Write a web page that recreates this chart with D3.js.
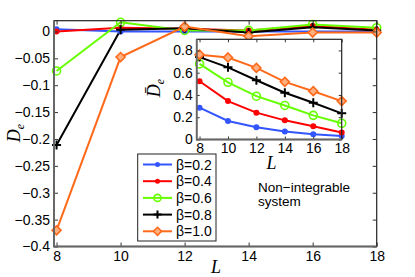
<!DOCTYPE html>
<html>
<head>
<meta charset="utf-8">
<script src="https://cdn.jsdelivr.net/npm/d3@7"></script>
<style>
  body { margin: 0; background: #fff; }
  text { font-family: "Liberation Sans", Arial, sans-serif; }
</style>
</head>
<body>
<svg id="chart" width="415" height="277"></svg>
<script>
// data
var sizes = [8, 10, 12, 14, 16, 18];
var betas = ["β=0.2", "β=0.4", "β=0.6", "β=0.8", "β=1.0"];
var colors = ["#3355ff", "#ff0000", "#66ff00", "#000000", "#ff6a1a"];
var markers = ["dot", "dot", "circle", "plus", "diamond"];

// main plot: D_e
var de02 = [0.004, 0.000, 0.000, 0.000, 0.000, 0.000];
var de04 = [0.000, 0.007, 0.005, 0.002, 0.010, 0.003];
var de06 = [-0.0735, 0.017, 0.002, 0.002, 0.013, 0.007];
var de08 = [-0.211, 0.003, 0.006, -0.002, 0.008, 0.002];
var de10 = [-0.370, -0.0476, 0.009, -0.009, -0.002, -0.002];
var mainSeries = [de02, de04, de06, de08, de10];

// inset: mean D_e
var dm02 = [0.286, 0.166, 0.110, 0.071, 0.047, 0.032];
var dm04 = [0.523, 0.345, 0.241, 0.172, 0.119, 0.063];
var dm06 = [0.679, 0.514, 0.389, 0.306, 0.217, 0.146];
var dm08 = [0.740, 0.648, 0.532, 0.420, 0.330, 0.235];
var dm10 = [0.762, 0.737, 0.643, 0.518, 0.434, 0.345];
var insetSeries = [dm02, dm04, dm06, dm08, dm10];

var mainYTicks = [0, -0.05, -0.1, -0.15, -0.2, -0.25, -0.3, -0.35, -0.4];
var xTicks = [8, 10, 12, 14, 16, 18];
var insetYTicks = [0, 0.2, 0.4, 0.6, 0.8];

var svg = d3.select("#chart");

function fmt(v) {
    return v === 0 ? "0" : String(v).replace("-", "\u2212");
}

function drawMarker(g, type, color, x, y, r) {
    if (type === "dot") {
        g.append("circle").attr("cx", x).attr("cy", y).attr("r", r)
            .attr("fill", color);
    } else if (type === "circle") {
        g.append("circle").attr("cx", x).attr("cy", y).attr("r", r + 1)
            .attr("fill", "none").attr("stroke", color).attr("stroke-width", 1.6);
    } else if (type === "plus") {
        g.append("path")
            .attr("d", "M" + (x - r - 1.5) + "," + y + "H" + (x + r + 1.5) + "M" + x + "," + (y - r - 1.5) + "V" + (y + r + 1.5))
            .attr("stroke", color).attr("stroke-width", 2);
    } else {
        var d = r + 1.5;
        g.append("path")
            .attr("d", "M" + x + "," + (y - d) + "L" + (x + d) + "," + y + "L" + x + "," + (y + d) + "L" + (x - d) + "," + y + "Z")
            .attr("fill", "#ffb080").attr("stroke", color).attr("stroke-width", 1.6);
    }
}

function panel(left, right, top, bottom, xdom, ydom, yticks, series, tickSize, markR, xpad) {
    var x = d3.scaleLinear().domain(xdom).range([left, right]);
    var y = d3.scaleLinear().domain(ydom).range([bottom, top]);
    var g = svg.append("g");

    g.append("rect").attr("x", left).attr("y", top)
        .attr("width", right - left).attr("height", bottom - top)
        .attr("fill", "#fff");

    var line = d3.line()
        .x(function (d, i) { return x(sizes[i]); })
        .y(function (d) { return y(d); });

    series.forEach(function (s, k) {
        g.append("path").datum(s)
            .attr("d", line)
            .attr("fill", "none")
            .attr("stroke", colors[k])
            .attr("stroke-width", 2);
    });
    series.forEach(function (s, k) {
        s.forEach(function (v, i) {
            drawMarker(g, markers[k], colors[k], x(sizes[i]), y(v), markR);
        });
    });

    // axes, ticks pointing in (box on)
    g.append("g").attr("transform", "translate(0," + bottom + ")")
        .call(d3.axisBottom(x).tickValues(xTicks).tickSizeInner(-tickSize).tickSizeOuter(0).tickPadding(xpad))
        .call(function (a) { a.select(".domain").remove(); });
    g.append("g").attr("transform", "translate(0," + top + ")")
        .call(d3.axisTop(x).tickValues(xTicks).tickSizeInner(-tickSize).tickSizeOuter(0).tickFormat(""))
        .call(function (a) { a.select(".domain").remove(); });
    g.append("g").attr("transform", "translate(" + left + ",0)")
        .call(d3.axisLeft(y).tickValues(yticks).tickSizeInner(-tickSize).tickSizeOuter(0).tickPadding(4).tickFormat(fmt))
        .call(function (a) { a.select(".domain").remove(); });
    g.append("g").attr("transform", "translate(" + right + ",0)")
        .call(d3.axisRight(y).tickValues(yticks).tickSizeInner(-tickSize).tickSizeOuter(0).tickFormat(""))
        .call(function (a) { a.select(".domain").remove(); });

    g.selectAll(".tick line").attr("stroke", "#333");
    g.selectAll(".tick text").attr("font-size", 14).attr("fill", "#000")
        .style("font-family", "'Liberation Sans', Arial, sans-serif");

    g.append("rect").attr("x", left).attr("y", top)
        .attr("width", right - left).attr("height", bottom - top)
        .attr("fill", "none").attr("stroke", "#222").attr("stroke-width", 1.2);
    g.append("path")
        .attr("d", "M" + left + "," + top + "V" + bottom + "H" + right)
        .attr("fill", "none").attr("stroke", "#666").attr("stroke-width", 1.8);
    return g;
}

panel(54, 376.7, 20.7, 246.5, [7.92, 18], [-0.4, 0.02], mainYTicks, mainSeries, 4, 3, 4.5);
panel(196.7, 341.7, 39.3, 139.5, [7.8, 18], [0, 0.9], insetYTicks, insetSeries, 3, 3, 3.5);

// axis labels
function label(x, y, rot, bar) {
    var t = svg.append("text")
        .attr("transform", "translate(" + x + "," + y + ") rotate(" + rot + ")")
        .attr("text-anchor", "middle")
        .style("font-family", "'Liberation Serif', 'Times New Roman', serif")
        .style("font-style", "italic")
        .attr("font-size", 18);
    var d = t.append("tspan").text("D");
    if (bar) d.text("D\u0304");
    t.append("tspan").attr("dy", 4).attr("font-size", 12).text("e");
}
label(20, 133, -90, false);
label(160, 88, -90, true);

svg.append("text").attr("x", 216).attr("y", 273).attr("text-anchor", "middle")
    .style("font-family", "'Liberation Serif', 'Times New Roman', serif")
    .style("font-style", "italic").attr("font-size", 18).text("L");
svg.append("text").attr("x", 271.5).attr("y", 169).attr("text-anchor", "middle")
    .style("font-family", "'Liberation Serif', 'Times New Roman', serif")
    .style("font-style", "italic").attr("font-size", 18).text("L");

// annotation
svg.append("text").attr("x", 258).attr("y", 192).attr("font-size", 13.5).text("Non\u2212integrable");
svg.append("text").attr("x", 258).attr("y", 206).attr("font-size", 13.5).text("system");

// legend
var lg = svg.append("g");
lg.append("rect").attr("x", 137.7).attr("y", 154).attr("width", 78.3).attr("height", 87)
    .attr("fill", "#fff").attr("stroke", "#222").attr("stroke-width", 1);
betas.forEach(function (b, k) {
    var yy = 164.5 + k * 16.7;
    lg.append("line").attr("x1", 143).attr("x2", 172).attr("y1", yy).attr("y2", yy)
        .attr("stroke", colors[k]).attr("stroke-width", 2);
    drawMarker(lg, markers[k], colors[k], 157.5, yy, 2.5);
    lg.append("text").attr("x", 176).attr("y", yy + 5).attr("font-size", 14).text(b);
});
</script>
</body>
</html>
